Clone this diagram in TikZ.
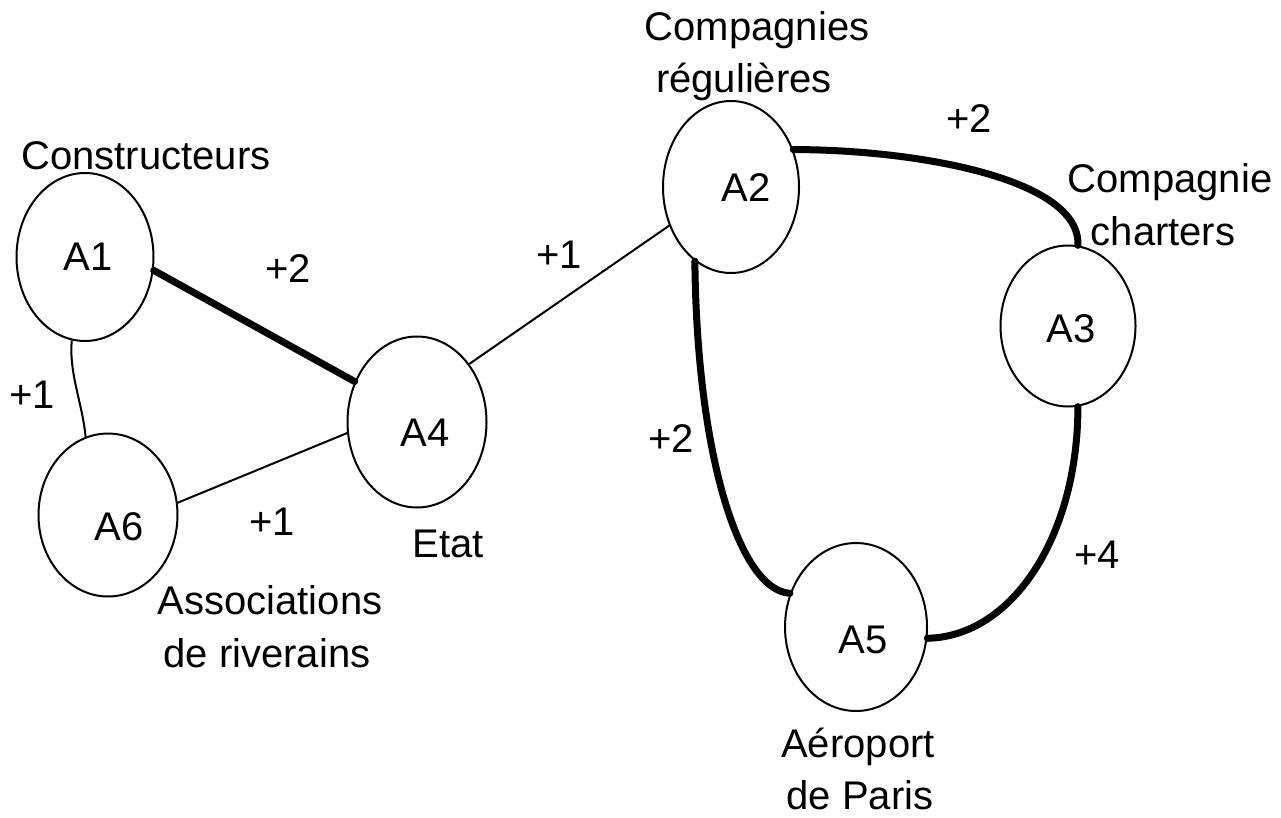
\documentclass[tikz,border=0pt]{standalone}
\usepackage{fontspec}
\setmainfont{Liberation Sans}
\usetikzlibrary{shapes.geometric}
\begin{document}
\begin{tikzpicture}[x=1pt,y=-1pt,
  actor/.style={ellipse, draw, line width=2pt, inner sep=0pt},
  weak/.style={line width=2pt},
  strong/.style={line width=7pt, line cap=round},
  txt/.style={font=\fontsize{40}{52}\selectfont, inner sep=0pt, anchor=base}]
\fill[white] (0,0) rectangle (1281,818);
\useasboundingbox (0,0) rectangle (1281,818);
% actors
\node[actor, minimum width=137pt, minimum height=168pt] (A1) at (85,257) {};
\node[actor, minimum width=139pt, minimum height=163pt] (A6) at (108,515) {};
\node[actor, minimum width=139pt, minimum height=171pt] (A4) at (417,422) {};
\node[actor, minimum width=136pt, minimum height=172pt] (A2) at (731,187) {};
\node[actor, minimum width=135pt, minimum height=161pt] (A3) at (1068,326) {};
\node[actor, minimum width=142pt, minimum height=168pt] (A5) at (856,627) {};
% actor codes
\node[txt] (tA1) at (88,270) {A1};
\node[txt] (tA6) at (119,540) {A6};
\node[txt] (tA4) at (425,446) {A4};
\node[txt] (tA2) at (746,202) {A2};
\node[txt] (tA3) at (1071,342) {A3};
\node[txt] (tA5) at (863,653) {A5};
% actor names
\node[txt] (n1) at (146,170) {Constructeurs};
\node[txt] (n6a) at (270,614) {Associations};
\node[txt] (n6b) at (267,667) {de riverains};
\node[txt] (n4) at (448,557) {Etat};
\node[txt] (n2a) at (757,41) {Compagnies};
\node[txt] (n2b) at (744,93) {régulières};
\node[txt] (n3a) at (1170,193) {Compagnie};
\node[txt] (n3b) at (1163,245) {charters};
\node[txt] (n5a) at (858,757) {Aéroport};
\node[txt] (n5b) at (860,809) {de Paris};
% links
\draw[strong] (A1.-11) -- (A4.147);
\draw[weak] (A1.-99) .. controls +(-3,33) and +(-3,-33) .. (A6.106);
\draw[weak] (A6.10) -- (A4.189);
\draw[weak] (A4.48) -- (A2.212);
\draw[strong] (A2.31) .. controls +(122,0) and +(3,-67) .. (A3.83);
\draw[strong] (A2.244) .. controls +(2,196) and +(-50,-3) .. (A5.153);
\draw[strong] (A3.-83) .. controls +(0,128) and +(86,-2) .. (A5.-9);
% link values
\node[txt] (v14) at (288,282) {+2};
\node[txt] (v16) at (32,408) {+1};
\node[txt] (v64) at (272,535) {+1};
\node[txt] (v42) at (559,269) {+1};
\node[txt] (v23) at (969,133) {+2};
\node[txt] (v25) at (671,452) {+2};
\node[txt] (v35) at (1097,568) {+4};
\end{tikzpicture}
\end{document}
